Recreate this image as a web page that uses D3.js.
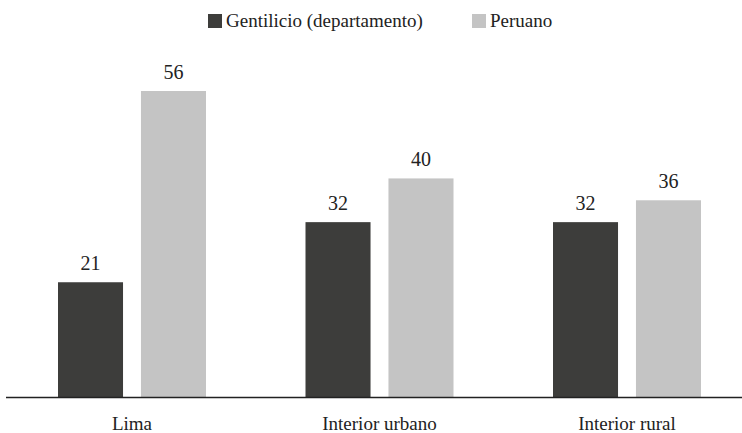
<!DOCTYPE html>
<html>
<head>
<meta charset="utf-8">
<script src="https://cdn.jsdelivr.net/npm/d3@7"></script>
<style>
  #chart text { font-family: "Liberation Serif", serif !important; }
</style>
</head>
<body style="margin:0">
<svg id="chart" width="742" height="433" font-family="Liberation Serif"></svg>
<script>
const categories = ["Lima", "Interior urbano", "Interior rural"];
const series = ["Gentilicio (departamento)", "Peruano"];
const gentilicio = [21, 32, 32];
const peruano = [56, 40, 36];
const colors = ["#3d3d3b", "#c4c4c4"];

function textStyle(size) {
  return `font-family:'Liberation Serif',serif !important;font-size:${size}px`;
}

const svg = d3.select("#chart");
const baseline = 397;

const x = d3.scaleBand()
  .domain(categories)
  .range([8.25, 750.75]);
const xInner = d3.scaleBand()
  .domain(series)
  .range([x.bandwidth() / 2 - 74, x.bandwidth() / 2 + 74])
  .paddingInner(16 / 148 * 2);
const y = d3.scaleLinear()
  .domain([0, 56])
  .range([baseline, 91]);

const data = [];
categories.forEach((c, i) => {
  data.push({cat: c, s: series[0], v: gentilicio[i]});
  data.push({cat: c, s: series[1], v: peruano[i]});
});

svg.selectAll("rect.bar")
  .data(data)
  .join("rect")
  .attr("class", "bar")
  .attr("x", d => x(d.cat) + xInner(d.s))
  .attr("width", xInner.bandwidth())
  .attr("y", d => y(d.v))
  .attr("height", d => baseline - y(d.v))
  .attr("fill", d => colors[series.indexOf(d.s)]);

svg.selectAll("text.val")
  .data(data)
  .join("text")
  .attr("class", "val")
  .attr("x", d => x(d.cat) + xInner(d.s) + xInner.bandwidth() / 2)
  .attr("y", d => y(d.v) - 12)
  .attr("text-anchor", "middle")
  .attr("style", textStyle(20))
  .attr("fill", "#222")
  .text(d => d.v);

// axis line
svg.append("line")
  .attr("x1", 6).attr("x2", 742)
  .attr("y1", baseline + 0.5).attr("y2", baseline + 0.5)
  .attr("stroke", "#222").attr("stroke-width", 1.5);

svg.selectAll("text.cat")
  .data(categories)
  .join("text")
  .attr("class", "cat")
  .attr("x", d => x(d) + x.bandwidth() / 2)
  .attr("y", 430)
  .attr("text-anchor", "middle")
  .attr("style", textStyle(19))
  .attr("fill", "#222")
  .text(d => d);

// legend
const legendX = [208, 472];
const lg = svg.selectAll("g.lg")
  .data(series)
  .join("g")
  .attr("class", "lg")
  .attr("transform", (d, i) => `translate(${legendX[i]},14)`);
lg.append("rect")
  .attr("width", 14).attr("height", 14)
  .attr("fill", (d, i) => colors[i]);
lg.append("text")
  .attr("x", 18).attr("y", 13)
  .attr("style", textStyle(19))
  .attr("fill", "#222")
  .text(d => d);
</script>
</body>
</html>
